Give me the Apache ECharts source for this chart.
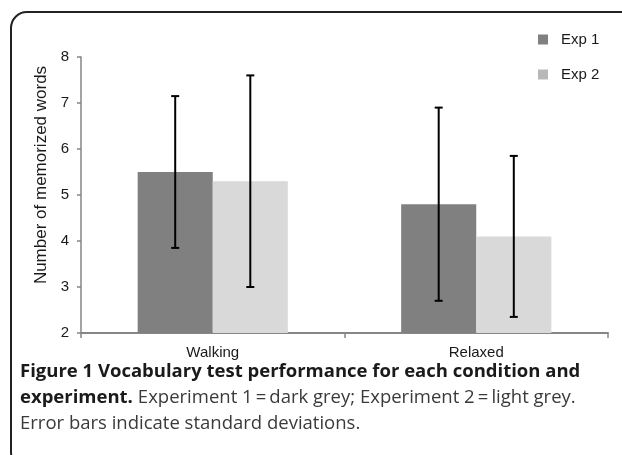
<!DOCTYPE html>
<html>
<head>
<meta charset="utf-8">
<script src="https://cdn.jsdelivr.net/npm/echarts@6/dist/echarts.min.js"></script>
<style>
  html, body { margin: 0; padding: 0; background: #fff; }
  #chart { width: 622px; height: 455px; }
</style>
</head>
<body>
<div id="chart"></div>
<script>
// data
const conditions = ['Walking', 'Relaxed'];
const seriesNames = ['Exp 1', 'Exp 2'];
const exp1Mean = [5.5, 4.8];
const exp2Mean = [5.3, 4.1];
const exp1Low = [3.85, 2.7];
const exp1High = [7.15, 6.9];
const exp2Low = [3.0, 2.35];
const exp2High = [7.6, 5.85];
const yTicks = [2, 3, 4, 5, 6, 7, 8];

const barGapPct = 43; // barCategoryGap in %

function errRows(low, high) {
  return conditions.map((c, i) => [i, low[i], high[i]]);
}

// draws one error bar, shifted to the bar of its series
function makeErrRender(side) {
  return function (params, api) {
    const cat = api.value(0);
    const lo = api.coord([cat, api.value(1)]);
    const hi = api.coord([cat, api.value(2)]);
    const barW = api.size([1, 0])[0] * (1 - barGapPct / 100) / 2;
    const x = lo[0] + side * barW / 2;
    const cap = 4;
    const st = { stroke: '#000', lineWidth: 2 };
    return {
      type: 'group',
      children: [
        { type: 'line', shape: { x1: x, y1: hi[1], x2: x, y2: lo[1] }, style: st },
        { type: 'line', shape: { x1: x - cap, y1: hi[1], x2: x + cap, y2: hi[1] }, style: st },
        { type: 'line', shape: { x1: x - cap, y1: lo[1], x2: x + cap, y2: lo[1] }, style: st }
      ]
    };
  };
}

let chart = echarts.init(document.getElementById('chart'), null, { renderer: 'canvas' });

let option = {
  backgroundColor: '#fff',
  animation: false,
  textStyle: { fontFamily: 'Liberation Sans, Arial, sans-serif' },
  title: {
    left: 20,
    top: 359,
    padding: 0,
    text: '{b|Figure 1 Vocabulary test performance for each condition and}\n' +
          '{b|experiment.} {r|Experiment 1\u2009=\u2009dark grey; Experiment 2\u2009=\u2009light grey.}\n' +
          '{r|Error bars indicate standard deviations.}',
    textStyle: {
      lineHeight: 26,
      rich: {
        b: { fontFamily: 'Open Sans', fontWeight: 'bold', fontSize: 18.5, color: '#1a1a1a', lineHeight: 26 },
        r: { fontFamily: 'Open Sans', fontWeight: 'normal', fontSize: 18.5, color: '#3a3a3a', lineHeight: 26 }
      }
    }
  },
  legend: {
    orient: 'vertical',
    left: 533,
    top: 27,
    itemWidth: 10,
    itemHeight: 10,
    itemGap: 20,
    icon: 'rect',
    textStyle: { fontSize: 15, color: '#1a1a1a', lineHeight: 15, padding: [0, 0, 0, 8] },
    data: [
      { name: seriesNames[0], itemStyle: { color: '#808080' } },
      { name: seriesNames[1], itemStyle: { color: '#b8b8b8' } }
    ]
  },
  graphic: [
    {
      type: 'rect',
      shape: { x: 11, y: 12, width: 700, height: 456, r: 16 },
      style: { fill: 'none', stroke: '#222', lineWidth: 2 },
      silent: true
    }
  ],
  grid: { left: 81, top: 57, width: 527, height: 276 },
  xAxis: {
    type: 'category',
    data: conditions,
    axisLine: { lineStyle: { color: '#868686', width: 2 } },
    axisTick: { show: true, alignWithLabel: false, length: 5, lineStyle: { color: '#868686', width: 1.5 } },
    axisLabel: { fontSize: 15, color: '#1a1a1a', margin: 12 }
  },
  yAxis: {
    type: 'value',
    min: yTicks[0],
    max: yTicks[yTicks.length - 1],
    interval: 1,
    name: 'Number of memorized words',
    nameLocation: 'middle',
    nameGap: 31,
    nameTextStyle: { fontSize: 17, color: '#1a1a1a', padding: [0, 0, 0, 40] },
    axisLine: { show: true, lineStyle: { color: '#868686', width: 1.5 } },
    axisTick: { show: true, length: 4, lineStyle: { color: '#868686', width: 1.5 } },
    axisLabel: { fontSize: 15, color: '#1a1a1a', margin: 12 },
    splitLine: { show: false }
  },
  series: [
    {
      name: seriesNames[0],
      type: 'bar',
      data: exp1Mean,
      barGap: '0%',
      barCategoryGap: barGapPct + '%',
      itemStyle: { color: '#808080' }
    },
    {
      name: seriesNames[1],
      type: 'bar',
      data: exp2Mean,
      barGap: '0%',
      barCategoryGap: barGapPct + '%',
      itemStyle: { color: '#d9d9d9' }
    },
    {
      name: 'err1',
      type: 'custom',
      renderItem: makeErrRender(-1),
      data: errRows(exp1Low, exp1High),
      encode: { x: 0, y: [1, 2] },
      z: 10
    },
    {
      name: 'err2',
      type: 'custom',
      renderItem: makeErrRender(1),
      data: errRows(exp2Low, exp2High),
      encode: { x: 0, y: [1, 2] },
      z: 10
    }
  ]
};

chart.setOption(option);
</script>
</body>
</html>
